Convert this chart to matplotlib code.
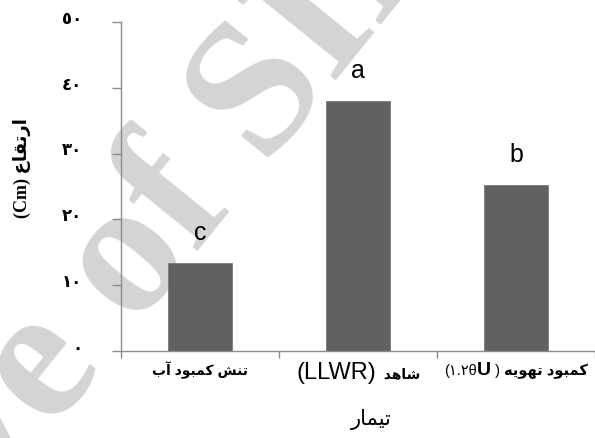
import matplotlib
matplotlib.use("Agg")
import matplotlib.pyplot as plt
from matplotlib.offsetbox import TextArea, HPacker, AnnotationBbox

# data
categories = ["تنش کمبود آب", "شاهد", "کمبود تهویه"]
heights = [13.4, 38.0, 25.2]
groups = ["c", "a", "b"]
yticks = [0, 10, 20, 30, 40, 50]
ytick_labels = ["٠", "١٠", "٢٠", "٣٠", "٤٠", "٥٠"]
xlabel = "تیمار"
ylabel = "ارتقاع"

# joining forms: isolated, final, initial, medial
FORMS = {
    "ا": ("\uFE8D", "\uFE8E"), "آ": ("\uFE81", "\uFE82"),
    "د": ("\uFEA9", "\uFEAA"), "ر": ("\uFEAD", "\uFEAE"), "و": ("\uFEED", "\uFEEE"),
    "ب": ("\uFE8F", "\uFE90", "\uFE91", "\uFE92"),
    "ت": ("\uFE95", "\uFE96", "\uFE97", "\uFE98"),
    "ش": ("\uFEB5", "\uFEB6", "\uFEB7", "\uFEB8"),
    "ع": ("\uFEC9", "\uFECA", "\uFECB", "\uFECC"),
    "ف": ("\uFED1", "\uFED2", "\uFED3", "\uFED4"),
    "ق": ("\uFED5", "\uFED6", "\uFED7", "\uFED8"),
    "م": ("\uFEE1", "\uFEE2", "\uFEE3", "\uFEE4"),
    "ن": ("\uFEE5", "\uFEE6", "\uFEE7", "\uFEE8"),
    "ه": ("\uFEE9", "\uFEEA", "\uFEEB", "\uFEEC"),
    "ک": ("\uFB8E", "\uFB8F", "\uFB90", "\uFB91"),
    "ی": ("\uFBFC", "\uFBFD", "\uFBFE", "\uFBFF"),
}


def shape(text):
    """Very small Persian shaper: pick joining forms, then reverse for LTR drawing."""
    out = []
    for i, ch in enumerate(text):
        if ch not in FORMS:
            out.append(ch)
            continue
        prev = text[i - 1] if i > 0 else ""
        nxt = text[i + 1] if i + 1 < len(text) else ""
        jp = prev in FORMS and len(FORMS[prev]) == 4
        jn = len(FORMS[ch]) == 4 and nxt in FORMS
        f = FORMS[ch]
        if jp and jn:
            out.append(f[3])
        elif jp:
            out.append(f[1])
        elif jn:
            out.append(f[2])
        else:
            out.append(f[0])
    return "".join(out[::-1])


fig = plt.figure(figsize=(5.95, 4.39), dpi=100)
ax = fig.add_axes([121 / 595, 1 - 352 / 439, 1 - 121 / 595, (352 - 23) / 439])
ax.patch.set_visible(False)

# watermark, behind everything
fig.text(46 / 595, 1 - 364 / 439, "Archive of SID", fontsize=138,
         family="Liberation Serif", fontweight="bold", color="#d4d4d6",
         rotation=51, rotation_mode="anchor", ha="center", va="center",
         zorder=-1)

x = range(len(categories))
ax.bar(x, heights, width=0.4, color="#616161", edgecolor="#7a7a7a",
       linewidth=0.6, zorder=2)

for xi, h, g in zip(x, heights, groups):
    ax.annotate(g, (xi, h), xytext=(0, 13.5), textcoords="offset points",
                ha="center", va="bottom", fontsize=18,
                family="Liberation Sans")

ax.set_xlim(-0.5, len(categories) - 0.5)
ax.set_ylim(0, 50)
ax.set_yticks(yticks)
ax.set_yticklabels([])
ax.set_xticks([i - 0.5 for i in range(len(categories) + 1)])
ax.set_xticklabels([])
ax.tick_params(axis="y", direction="out", length=6.5, width=1, color="#8c8c8c")
ax.tick_params(axis="x", direction="out", length=5, width=1, color="#8c8c8c")
for side in ["top", "right"]:
    ax.spines[side].set_visible(False)
for side in ["left", "bottom"]:
    ax.spines[side].set_color("#8c8c8c")
    ax.spines[side].set_linewidth(1)

# y tick labels (Arabic-Indic digits), drawn a little above their ticks
for v, lab in zip(yticks, ytick_labels):
    ax.annotate(lab, (0, v), xycoords=("axes fraction", "data"),
                xytext=(-28, 3), textcoords="offset points",
                ha="right", va="center", fontsize=12, fontweight="bold",
                family="DejaVu Sans")

# category labels
parts = [
    [(shape(categories[0]), 10, "bold")],
    [("(LLWR)", 17, "normal"), ("  " + shape(categories[1]), 10, "bold")],
    [("(١.٢θ", 10.5, "normal"), ("U", 14, "bold"), (" ) ", 10.5, "normal"),
     (shape(categories[2]), 10.5, "bold")],
]
for xi, segs in zip(x, parts):
    boxes = [TextArea(t, textprops=dict(fontsize=s, fontweight=w,
                                        family=["Liberation Sans", "DejaVu Sans"]))
             for t, s, w in segs]
    pack = HPacker(children=boxes, align="baseline", pad=0, sep=0)
    ab = AnnotationBbox(pack, (xi, 0), xycoords=("data", "axes fraction"),
                        xybox=(0, -7), boxcoords="offset points",
                        box_alignment=(0.5, 1), frameon=False)
    ax.add_artist(ab)

fig.text(371 / 595, 1 - 420 / 439, shape(xlabel), fontsize=15,
         family="DejaVu Sans", ha="center", va="center")
fig.text(22 / 595, 1 - 168 / 439, "(Cm) " + shape(ylabel), fontsize=13,
         fontweight="bold", family=["Liberation Serif", "DejaVu Sans"],
         rotation=90, ha="center", va="center")

fig.savefig("out.png", dpi=100)
